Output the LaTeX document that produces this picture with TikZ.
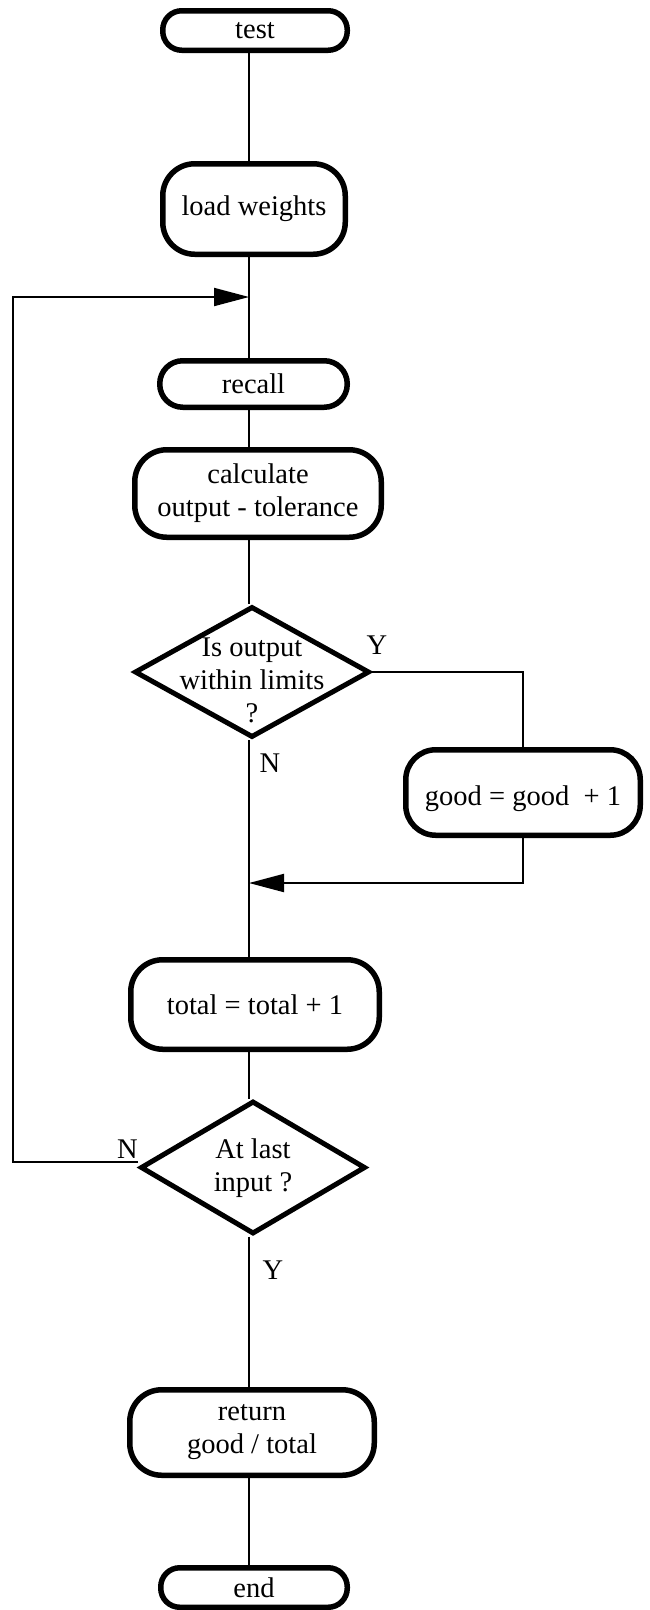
\documentclass[tikz,border=0pt]{standalone}
\usepackage{fontspec}
\setmainfont{Liberation Serif}
\usetikzlibrary{arrows.meta,shapes.geometric}
\begin{document}
\begin{tikzpicture}[x=1pt,y=-1pt,
  every node/.style={font=\fontsize{28.5}{33}\selectfont},
  proc/.style={draw,line width=5.5pt,align=center,inner sep=0pt},
  decision/.style={draw,diamond,line width=5pt,inner sep=0pt},
  conn/.style={line width=2pt},
  tip/.style={-{Triangle[length=35pt,width=18pt]}},
  lbl/.style={inner sep=0pt}]
\useasboundingbox (0,0) rectangle (649,1610);

% process boxes
\node[proc,rounded corners=19pt,minimum width=184.5pt,minimum height=39.5pt] (test) at (255,30.5) {test};
\node[proc,rounded corners=32pt,minimum width=182.5pt,minimum height=90.5pt] (lw) at (254,209) {load weights};
\node[proc,rounded corners=23pt,minimum width=187.5pt,minimum height=46.5pt] (recall) at (253.5,384) {recall};
\node[proc,rounded corners=32pt,minimum width=246.5pt,minimum height=87.5pt] (calc) at (258,493.5) {calculate\\output - tolerance};
\node[proc,rounded corners=30pt,minimum width=234.5pt,minimum height=85.5pt,text height=31pt,text depth=6pt] (good) at (523,792.5) {good = good\ \ + 1};
\node[proc,rounded corners=32pt,minimum width=248.5pt,minimum height=89.5pt] (total) at (255,1004.5) {total = total + 1};
\node[proc,rounded corners=32pt,minimum width=244.5pt,minimum height=85.5pt] (ret) at (252,1432.5) {return\\good / total};
\node[proc,rounded corners=19pt,minimum width=186.5pt,minimum height=39.5pt] (end) at (254,1587.5) {end};

% decisions
\node[decision,minimum width=235pt,minimum height=131pt] (d1) at (252,672) {};
\node[align=center] (d1t) at (252,680) {Is output\\within limits\\?};
\node[decision,minimum width=225pt,minimum height=133pt] (d2) at (253,1167.5) {};
\node[align=center] (d2t) at (253,1168) {At last\\input ?};

% branch labels
\node[lbl] (y1) at (377,645) {Y};
\node[lbl] (n1) at (270,763) {N};
\node[lbl] (n2) at (127.5,1149) {N};
\node[lbl] (y2) at (273,1270) {Y};

% main flow line
\coordinate (sp) at (249,0);
\draw[conn] (test.south -| sp) -- (lw.north -| sp);
\draw[conn] (lw.south -| sp) -- (recall.north -| sp);
\draw[conn] (recall.south -| sp) -- (calc.north -| sp);
\draw[conn] (calc.south -| sp) -- (d1.north -| sp);
\draw[conn] (d1.south -| sp) -- (total.north -| sp);
\draw[conn] (total.south -| sp) -- (d2.north -| sp);
\draw[conn] (d2.south -| sp) -- (ret.north -| sp);
\draw[conn] (ret.south -| sp) -- (end.north -| sp);

% yes branch through the counter update
\coordinate (join2) at (249,883);
\draw[conn] (d1.east) -| (good.north);
\draw[conn,tip] (good.south) |- (join2);

% loop back for the next input
\coordinate (loopc) at (13,297);
\coordinate (join1) at (249,297);
\draw[conn,tip] ([yshift=6pt]d2.west) -| (loopc) -- (join1);
\end{tikzpicture}
\end{document}
